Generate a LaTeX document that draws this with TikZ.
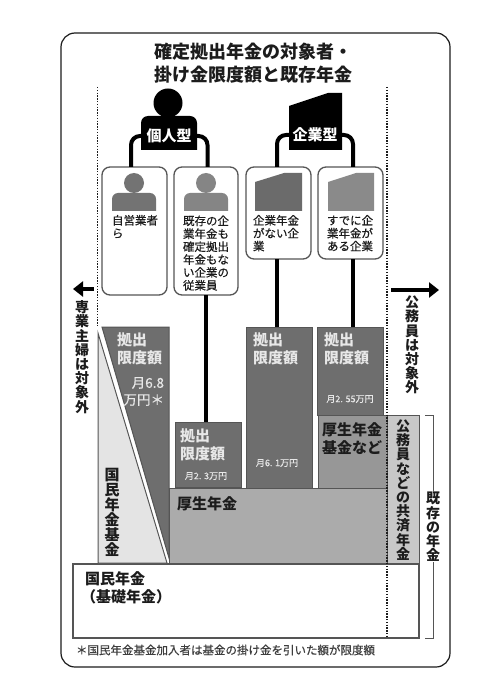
\documentclass[tikz,border=0pt]{standalone}
\usepackage{fontspec}
\setmainfont{Noto Sans CJK JP}
\newfontfamily\jpmed[FakeBold=0.5]{Noto Sans CJK JP}
\usepackage{xcolor}
\usepackage{tikz}
\usetikzlibrary{arrows.meta,positioning,calc}
\definecolor{nenink}{HTML}{1C1C1C}
\definecolor{nenline}{HTML}{555555}
\definecolor{nendark}{HTML}{6E6E6E}
\definecolor{nenmid}{HTML}{979797}
\definecolor{nenkosei}{HTML}{ABABAB}
\definecolor{nenkyosai}{HTML}{C8C8C8}
\definecolor{nenlight}{HTML}{E4E4E4}
\definecolor{nenpale}{HTML}{E8E8E8}
\tikzset{
  card/.style={draw=nenline,fill=white,rounded corners=8pt,line width=1.3pt,inner sep=0pt,outer sep=0pt},
  bar/.style={draw=nenline,line width=1pt,inner sep=0pt,outer sep=0pt},
  limit/.style={bar,fill=nendark},
  conn/.style={line width=4pt,draw=black,rounded corners=9pt},
  dots/.style={line width=1.4pt,draw=nenink,dash pattern=on 1.4pt off 1.4pt},
  txt/.style={inner sep=0pt,outer sep=0pt,anchor=west,align=left,text=nenink},
  cardtxt/.style={txt,font=\fontsize{11.5}{12.9}\selectfont\jpmed},
  limtxt/.style={txt,text=nenpale,font=\fontsize{15}{18}\selectfont\bfseries},
  amount/.style={inner sep=0pt,outer sep=0pt,text=nenpale,font=\fontsize{9}{9}\selectfont\jpmed},
  nentxt/.style={txt,font=\fontsize{15}{18}\selectfont\bfseries},
  tate/.style={inner sep=0pt,outer sep=0pt,align=center,text=nenink,font=\fontsize{14}{14.2}\selectfont\bfseries},
  typetxt/.style={inner sep=0pt,outer sep=0pt,text=white,font=\fontsize{15}{15}\selectfont\bfseries},
  bigarr/.style={-{Triangle[length=10pt,width=15pt]},line width=3.3pt,draw=black},
}

\begin{document}
\begin{tikzpicture}[x=1pt,y=-1pt]
  \useasboundingbox (0,0) rectangle (491,700);
  \fill[white] (0,0) rectangle (491,700);
  \draw[line width=1.2pt,draw=nenink,rounded corners=14pt] (61,33) rectangle (450,667);
  % title
  \node[txt,font=\fontsize{18}{23}\selectfont\bfseries] (title) at (154,63) {確定拠出年金の対象者・\\掛け金限度額と既存年金};

  % cards
  \node[card,minimum width=65pt,minimum height=128pt] (jiei) at (134.5,231) {};
  \node[card,minimum width=64pt,minimum height=128pt] (jugyo) at (206,231) {};
  \node[card,minimum width=65pt,minimum height=92pt] (nashi) at (278.5,213) {};
  \node[card,minimum width=65pt,minimum height=92pt] (ari) at (350.5,213) {};

  % type heads
  \fill[black] (168,103) circle (14.5);
  \fill[black] (141,150) [rounded corners=7pt] -- (141,116) -- (197,116) [sharp corners] -- (197,150) -- cycle;
  \fill[black] (289,150) -- (289,106) -- (328,93) -- (342,93) -- (342,150) -- cycle;
  \node[typetxt] (kojin) at (169,136) {個人型};
  \node[typetxt] (kigyo) at (315,135) {企業型};
  \draw[conn] (kojin.west) -| ([xshift=-3.5pt]jiei.north);
  \draw[conn] (kojin.east) -| ([xshift=1.5pt]jugyo.north);
  \draw[conn] (kigyo.west) -| ([xshift=-1.5pt]nashi.north);
  \draw[conn] (kigyo.east) -| ([xshift=2.5pt]ari.north);

  % card icons
  \foreach \cx/\shade in {134/55,206/48}{
    \fill[black!\shade] (\cx,183) circle (10);
    \fill[black!\shade] (\cx-22,211) [rounded corners=6pt] -- (\cx-22,193) -- (\cx+22,193) [sharp corners] -- (\cx+22,211) -- cycle;
  }
  \fill[black!58] (255,211) -- (255,182) -- (284,173) -- (302,173) -- (302,211) -- cycle;
  \fill[black!46] (328,211) -- (328,182) -- (356,173) -- (374,173) -- (374,211) -- cycle;

  % card texts
  \node[cardtxt,anchor=north west] (t1) at (112,215) {自営業者\\ら};
  \node[cardtxt,anchor=north west] (t2) at (183,215.5) {既存の企\\業年金も\\確定拠出\\年金もな\\い企業の\\従業員};
  \node[cardtxt,anchor=north west] (t3) at (253,215) {企業年金\\がない企\\業};
  \node[cardtxt,anchor=north west] (t4) at (327,215) {すでに企\\業年金が\\ある企業};

  % national pension base
  \node[bar,fill=white,line width=1.4pt,minimum width=346pt,minimum height=74pt] (kokumin) at (246,601) {};
  % limit blocks
  \node[limit,minimum width=66pt,minimum height=65pt] (gen2) at (208,454.5) {};
  \node[limit,minimum width=66pt,minimum height=161pt] (gen3) at (279,407.5) {};
  \node[limit,minimum width=66pt,minimum height=88pt] (gen4) at (350,371) {};
  \draw[conn] (jugyo.south) -- (gen2.north -| jugyo.south);
  \draw[conn] ([xshift=-1.5pt]nashi.south) -- ([xshift=-1.5pt]nashi.south |- gen3.north);
  \draw[conn] ([xshift=2.5pt]ari.south) -- ([xshift=2.5pt]ari.south |- gen4.north);

  \fill[nendark,draw=nenline,line width=1pt] (102,327) -- (169,327) -- (169,558) -- cycle;
  \draw[fill=nenlight,draw=nenline,line width=1pt] (98,333) -- (98,563) -- (167,563) -- cycle;

  % pension layers
  \node[bar,fill=nenmid,minimum width=69pt,minimum height=73pt] (kikin) at (352.5,451.5) {};
  \node[bar,fill=nenkosei,minimum width=218pt,minimum height=75pt] (kosei) at (278,525.5) {};
  \node[bar,fill=nenkyosai,minimum width=32pt,minimum height=148pt] (kyosai) at (403,489) {};

  % limit labels
  \node[limtxt] (lim1) at (117,349) {拠出\\限度額};
  \node[limtxt] (lim2) at (180,445) {拠出\\限度額};
  \node[limtxt] (lim3) at (253,349) {拠出\\限度額};
  \node[limtxt] (lim4) at (324,349) {拠出\\限度額};
  \node[limtxt,anchor=east,align=right,font=\fontsize{13.5}{17}\selectfont\jpmed] (rate1) at (164,391.5) {月6.8\\万円＊};
  \node[amount] (rate2) at (206,476) {月2. 3万円};
  \node[amount] (rate3) at (277,463) {月6. 1万円};
  \node[amount] (rate4) at (350,399) {月2. 55万円};

  % pension labels
  \node[nentxt] (lkosei) at (177,504) {厚生年金};
  \node[nentxt] (lkikin) at (322,439) {厚生年金\\基金など};
  \node[nentxt] (lkokumin) at (81,588) {\hspace{4pt}国民年金\\（基礎年金）};
  \node[tate,font=\fontsize{15}{15}\selectfont\bfseries] (lkkikin) at (112,512.5) {国\\民\\年\\金\\基\\金};
  \node[tate] (lkyosai) at (403,490) {公\\務\\員\\な\\ど\\の\\共\\済\\年\\金};

  % target limits
  \coordinate (dotl1) at (97.5,87);
  \coordinate (dotl2) at (97.5,327);
  \coordinate (dotr1) at (387,87);
  \coordinate (dotr2) at (387,638);
  \draw[dots] (dotl1) -- (dotl2);
  \draw[dots] (dotr1) -- (dotr2);
  \coordinate (arrl1) at (94,289);
  \coordinate (arrl2) at (73,289);
  \coordinate (arrr1) at (391,290);
  \coordinate (arrr2) at (439,290);
  \draw[bigarr] (arrl1) -- (arrl2);
  \draw[bigarr] (arrr1) -- (arrr2);
  \node[tate] (sengyo) at (82,357) {専\\業\\主\\婦\\は\\対\\象\\外};
  \node[tate] (komuin) at (412,345) {公\\務\\員\\は\\対\\象\\外};

  % existing pensions bracket
  \node[tate] (kizon) at (433,527) {既\\存\\の\\年\\金};
  \coordinate (brt) at (425,415);
  \coordinate (brb) at (425,638);
  \draw[nenline,line width=.7pt] (brt) -| (kizon.north);
  \draw[nenline,line width=.7pt] (brb) -| (kizon.south);

  % note
  \node[txt,font=\fontsize{11.5}{12}\selectfont\jpmed,text=nenink!85] (note) at (76,650) {＊国民年金基金加入者は基金の掛け金を引いた額が限度額};
\end{tikzpicture}
\end{document}
